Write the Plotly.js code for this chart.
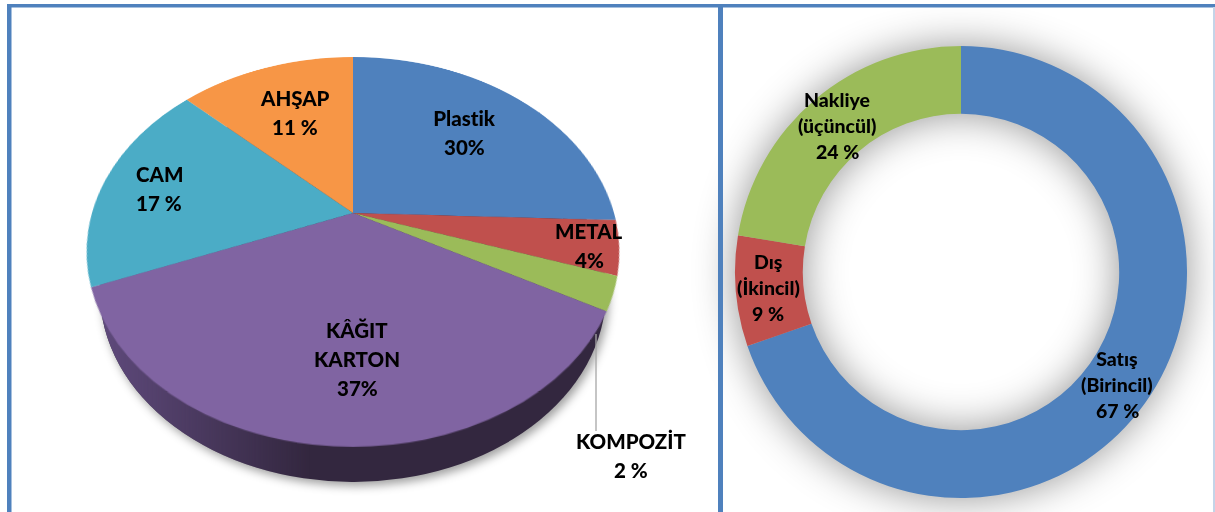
<!DOCTYPE html>
<html lang="tr">
<head>
<meta charset="utf-8">
<title>Ambalaj</title>
<script src="https://cdn.plot.ly/plotly-3.0.1.min.js"></script>
<style>
html,body{margin:0;padding:0;background:#fff;width:1215px;height:512px;overflow:hidden}
#stage{position:relative;width:1215px;height:512px;overflow:hidden}
.layer{position:absolute}
#wallBox{left:0;top:0;width:1215px;height:512px;filter:drop-shadow(3px 4px 5px rgba(0,0,0,.38))}
#wallLightBox{left:0;top:0;width:1215px;height:512px;
  -webkit-mask-image:linear-gradient(to right,#000 100px,transparent 310px);
  mask-image:linear-gradient(to right,#000 100px,transparent 310px)}
.wall{left:100px;top:39px;width:506px;height:506px;transform:scaleY(.751);transform-origin:center}
#tilt{left:53px;top:-87px;width:600px;height:600px;transform-origin:center;transform:perspective(910px) rotateX(44.2deg)}
#donut{left:711px;top:22px;width:500px;height:500px;filter:drop-shadow(0 0 20px rgba(0,0,0,.42))}
#over{left:0;top:0;width:1215px;height:512px}
#over text{font-variant-ligatures:none;font-feature-settings:"liga" 0}
</style>
</head>
<body>
<div id="stage">
  <div class="layer" id="wallBox">
    <div class="layer wall" id="wallDark"></div>
    <div class="layer" id="wallLightBox"><div class="layer wall" id="wallLight"></div></div>
  </div>
  <div class="layer" id="tilt"></div>
  <div class="layer" id="donut"></div>
  <div class="layer" id="over"></div>
</div>
<script>
// Left pie: material shares, as the slices are drawn in the picture
const materialNames = ['Plastik','METAL','KOMPOZİT','KÂĞIT KARTON','CAM','AHŞAP'];
const materialValues = [25.6,4.5,2.8,36.1,18.1,12.9];
const materialColors = ['#4f81bd','#c0504d','#9bbb59','#8064a2','#4bacc6','#f79646'];

// Right donut: packaging type shares, as the slices are drawn in the picture
const typeNames = ['Satış (Birincil)','Dış (İkincil)','Nakliye (üçüncül)'];
const typeValues = [69.7,7.9,22.4];
const typeColors = ['#4f81bd','#c0504d','#9bbb59'];

// Label text
const materialLabelLines = [['Plastik','30%'],['METAL','4%'],['KOMPOZİT','2 %'],['KÂĞIT','KARTON','37%'],['CAM','17 %'],['AHŞAP','11 %']];
const typeLabelLines = [['Satış','(Birincil)','67 %'],['Dış','(İkincil)','9 %'],['Nakliye','(üçüncül)','24 %']];

// Label placement (centre x, first line y) in picture pixels
const materialLabelAt = [[464,118],[589,231],[631,441],[357,330],[159,174],[295,98]];
const typeLabelAt = [[1117,358],[768,261],[837,99]];

const cfg = {staticPlot:true, displayModeBar:false};
const clear = {paper_bgcolor:'rgba(0,0,0,0)', plot_bgcolor:'rgba(0,0,0,0)', showlegend:false, margin:{l:0,r:0,t:0,b:0,pad:0}};
const font = 'Lato, "Open Sans", sans-serif';

function wall(id, colour){
  const total = materialValues.reduce((a,b)=>a+b,0);
  Plotly.newPlot(id,[{type:'pie',values:[total],labels:['kenar'],textinfo:'none',hoverinfo:'skip',
    marker:{colors:[colour],line:{width:0}},sort:false,domain:{x:[0,1],y:[0,1]}}],
    Object.assign({width:506,height:506},clear),cfg);
}
wall('wallDark','#33273f');
wall('wallLight','#5f4a7c');

Plotly.newPlot('tilt',[{type:'pie',labels:materialNames,values:materialValues,sort:false,direction:'clockwise',rotation:0,
  textinfo:'none',hoverinfo:'skip',marker:{colors:materialColors,line:{width:0}},domain:{x:[0.065,0.935],y:[0.065,0.935]}}],
  Object.assign({width:600,height:600},clear),cfg);

Plotly.newPlot('donut',[{type:'pie',labels:typeNames,values:typeValues,hole:0.7,sort:false,direction:'clockwise',rotation:0,
  textinfo:'none',hoverinfo:'skip',marker:{colors:typeColors,line:{width:0}},domain:{x:[0.048,0.952],y:[0.048,0.952]}}],
  Object.assign({width:500,height:500},clear),cfg);

function lines(groups, places, size, step){
  const out = [];
  groups.forEach((g,i)=>g.forEach((t,j)=>out.push({
    text:t,x:places[i][0],y:places[i][1]+j*step,xref:'x',yref:'y',showarrow:false,
    xanchor:'center',yanchor:'middle',font:{family:font,size:size,color:'#000',weight:900}
  })));
  return out;
}

const frameBlue = '#4f81bd';
const rect = (x0,y0,x1,y1,c)=>({type:'rect',xref:'x',yref:'y',x0,y0,x1,y1,line:{width:0},fillcolor:c,layer:'above'});

Plotly.newPlot('over',[],Object.assign({},clear,{
  width:1215,height:512,
  xaxis:{range:[0,1215],visible:false,fixedrange:true},
  yaxis:{range:[512,0],visible:false,fixedrange:true},
  shapes:[
    rect(7,4,1215,7.5,frameBlue),
    rect(7,4,11.5,512,frameBlue),
    rect(718,4,723,512,frameBlue),
    rect(1213,7,1215,512,'#c4d4e8'),
    {type:'line',xref:'x',yref:'y',x0:596,y0:334,x1:596,y1:431,line:{color:'#a6a6a6',width:1.3}}
  ],
  annotations:[].concat(lines(materialLabelLines,materialLabelAt,20.5,29),lines(typeLabelLines,typeLabelAt,19.5,26))
}),cfg);
</script>
</body>
</html>
